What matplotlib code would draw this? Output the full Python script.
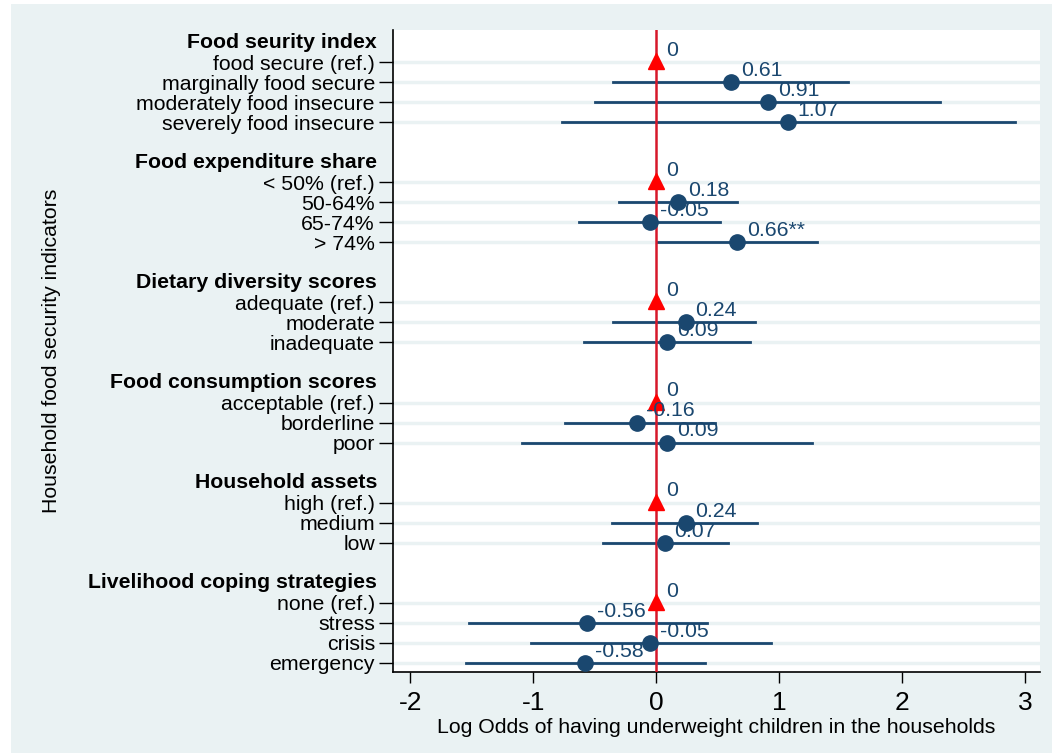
import numpy as np
import matplotlib.pyplot as plt
from matplotlib.patches import Rectangle

plt.rcParams['font.family'] = ['Liberation Sans', 'DejaVu Sans']

groups = ["Food seurity index", "Food expenditure share", "Dietary diversity scores",
          "Food consumption scores", "Household assets", "Livelihood coping strategies"]

rows = [
    ["food secure (ref.)", "marginally food secure", "moderately food insecure", "severely food insecure"],
    ["< 50% (ref.)", "50-64%", "65-74%", "> 74%"],
    ["adequate (ref.)", "moderate", "inadequate"],
    ["acceptable (ref.)", "borderline", "poor"],
    ["high (ref.)", "medium", "low"],
    ["none (ref.)", "stress", "crisis", "emergency"],
]

coef = [
    [0, 0.61, 0.91, 1.07],
    [0, 0.18, -0.05, 0.66],
    [0, 0.24, 0.09],
    [0, -0.16, 0.09],
    [0, 0.24, 0.07],
    [0, -0.56, -0.05, -0.58],
]
ci_low = [
    [0, -0.35, -0.50, -0.77],
    [0, -0.30, -0.63, 0.01],
    [0, -0.35, -0.59],
    [0, -0.74, -1.09],
    [0, -0.36, -0.43],
    [0, -1.52, -1.02, -1.55],
]
ci_high = [
    [0, 1.56, 2.31, 2.92],
    [0, 0.66, 0.52, 1.31],
    [0, 0.80, 0.76],
    [0, 0.48, 1.27],
    [0, 0.82, 0.58],
    [0, 0.41, 0.93, 0.40],
]
value_labels = [
    ["0", "0.61", "0.91", "1.07"],
    ["0", "0.18", "-0.05", "0.66**"],
    ["0", "0.24", "0.09"],
    ["0", "-0.16", "0.09"],
    ["0", "0.24", "0.07"],
    ["0", "-0.56", "-0.05", "-0.58"],
]

navy = "#1a476f"
bg = "#eaf2f3"
fs = 15.3

fig = plt.figure(figsize=(10.52, 7.53), dpi=100, facecolor="white")
fig.patches.append(Rectangle((11 / 1052, 0), 1, 1 - 4 / 753, transform=fig.transFigure,
                             facecolor=bg, edgecolor="none", zorder=-10))
ax = fig.add_axes([393 / 1052, 1 - 672 / 753, (1040 - 393) / 1052, (672 - 30) / 753])
ax.set_facecolor("white")

pos = 0
tick_pos, tick_lab = [], []
for g, name in enumerate(groups):
    ax.text(-16 / 647, pos, name, transform=ax.get_yaxis_transform(), ha="right", va="center",
            fontsize=fs, fontweight="bold", color="black")
    pos += 1
    for i, lab in enumerate(rows[g]):
        y = pos
        tick_pos.append(y)
        tick_lab.append(lab)
        ax.axhline(y, color=bg, lw=2.5, zorder=0)
        c = coef[g][i]
        if lab.endswith("(ref.)"):
            ax.plot(c, y - 0.05, marker="^", color="red", ms=11, zorder=4, clip_on=False)
        else:
            ax.plot([ci_low[g][i], ci_high[g][i]], [y, y], color=navy, lw=2, zorder=2)
            ax.plot(c, y, marker="o", color=navy, ms=11, zorder=4)
        ax.annotate(value_labels[g][i], (c, y), xytext=(7, 4.5), textcoords="offset points",
                    ha="left", va="baseline", fontsize=fs, color=navy, zorder=5)
        pos += 1
    pos += 1

ax.axvline(0, color="#d7182a", lw=1.8, zorder=3)

ax.set_yticks(tick_pos)
ax.set_yticklabels(tick_lab, fontsize=fs)
ax.set_ylim(pos - 2 + 0.45, -0.6)
ax.set_xlim(-2.14, 3.12)
ax.set_xticks([-2, -1, 0, 1, 2, 3])
ax.set_xticklabels(["-2", "-1", "0", "1", "2", "3"], fontsize=19)
ax.tick_params(axis="y", length=10, width=1, pad=3)
ax.tick_params(axis="x", length=8, width=1, pad=6)
for s in ["top", "right"]:
    ax.spines[s].set_visible(False)
ax.spines["left"].set_linewidth(1.2)
ax.spines["bottom"].set_linewidth(1.2)

ax.set_xlabel("Log Odds of having underweight children in the households", fontsize=fs, labelpad=2)
fig.text(52 / 1052, 1 - 351 / 753, "Household food security indicators", rotation=90,
         ha="center", va="center", fontsize=fs)

fig.savefig("out.png", dpi=100, facecolor=fig.get_facecolor())
